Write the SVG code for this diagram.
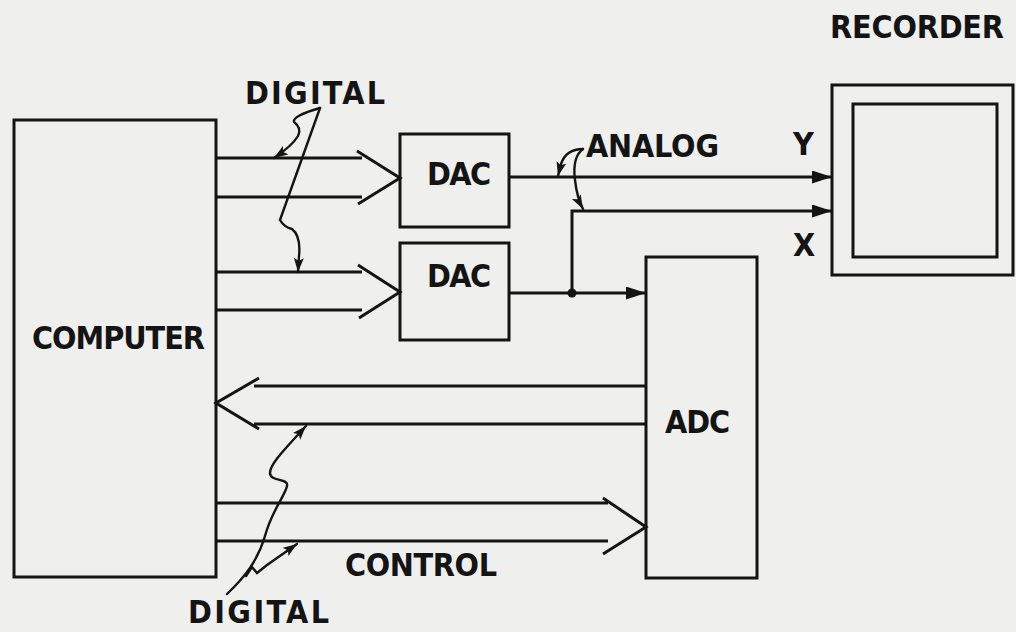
<svg xmlns="http://www.w3.org/2000/svg" width="1016" height="632" viewBox="0 0 1016 632">
<style>
.bg{fill:#efefed}
.box{fill:none;stroke:#141414;stroke-width:3}
.ln{fill:none;stroke:#141414;stroke-width:3;stroke-linejoin:miter}
.ld{fill:none;stroke:#141414;stroke-width:2.4;stroke-linecap:round}
.t{font-family:"DejaVu Sans Condensed","DejaVu Sans","Liberation Sans",sans-serif;font-weight:bold;font-size:32px;fill:#141414}
</style>
<defs>
<marker id="big" markerUnits="userSpaceOnUse" markerWidth="22" markerHeight="14" refX="20" refY="6.5" orient="auto">
<path d="M0,0 L20,6.5 L0,13 Z" fill="#141414"/>
</marker>
<marker id="sm" markerUnits="userSpaceOnUse" markerWidth="16" markerHeight="12" refX="14" refY="5" orient="auto">
<path d="M0,0 L14,5 L0,10 L3,5 Z" fill="#141414"/>
</marker>
</defs>
<rect class="bg" x="0" y="0" width="1016" height="632"/>

<g id="computer">
<rect class="box" x="14" y="120" width="202" height="457"/>
<text class="t" x="32" y="349" textLength="173" lengthAdjust="spacing">COMPUTER</text>
</g>
<g id="dac1">
<rect class="box" x="400" y="134" width="109" height="93"/>
<text class="t" x="427" y="185" textLength="64" lengthAdjust="spacing">DAC</text>
</g>
<g id="dac2">
<rect class="box" x="400" y="243" width="109" height="97"/>
<text class="t" x="427" y="287" textLength="64" lengthAdjust="spacing">DAC</text>
</g>
<g id="adc">
<rect class="box" x="646" y="257" width="111" height="321"/>
<text class="t" x="665" y="433" textLength="65" lengthAdjust="spacing">ADC</text>
</g>
<g id="recorder">
<rect class="box" x="832" y="85" width="181" height="190"/>
<rect class="box" x="853" y="104" width="144" height="153"/>
<text class="t" x="830" y="38" textLength="174" lengthAdjust="spacing">RECORDER</text>
</g>

<g id="connectors">
<path class="ln" d="M216,158 H362 M216,197 H362 M357,151 L400,178 L358,204"/>
<path class="ln" d="M216,272 H362 M216,310 H362 M358,265 L400,292 L359,318"/>
<path class="ln" d="M646,386 H254 M646,424 H254 M259,378 L216,403 L259,429"/>
<path class="ln" d="M216,503 H608 M216,541 H608 M603,498 L646,527 L603,554"/>
<path class="ln" d="M509,177 H832" marker-end="url(#big)"/>
<path class="ln" d="M572,293 V211 H832" marker-end="url(#big)"/>
<path class="ln" d="M509,293 H646" marker-end="url(#big)"/>
<circle cx="572" cy="293" r="4.5" fill="#141414"/>
</g>

<g id="labels">
<text class="t" x="245" y="104" textLength="140" lengthAdjust="spacing">DIGITAL</text>
<path class="ld" d="M320,108 Q292,116 294,122 Q302,128 298,136 Q292,146 274,158" marker-end="url(#sm)"/>
<path class="ld" d="M320,108 L280,220 Q284,227 292,229 Q301,236 299,256 L298,272" marker-end="url(#sm)"/>
<text class="t" x="586" y="157" textLength="133" lengthAdjust="spacing">ANALOG</text>
<path class="ld" d="M583,149 Q566,149 561,164 L558,176" marker-end="url(#sm)"/>
<path class="ld" d="M583,149 Q572,157 575,180 Q577,198 583,209" marker-end="url(#sm)"/>
<text class="t" x="793" y="155">Y</text>
<text class="t" x="793" y="256">X</text>
<text class="t" x="345" y="576" textLength="152" lengthAdjust="spacing">CONTROL</text>
<text class="t" x="188" y="623" font-size="30" textLength="141" lengthAdjust="spacing">DIGITAL</text>
<path class="ld" d="M227,594 C245,577 258,560 265,536 C272,510 285,496 287,486 C289,478 270,482 270,473 C270,464 285,449 306,426" marker-end="url(#sm)"/>
<path class="ld" d="M246,576 L252,567 L257,573 L267,565 L297,544" marker-end="url(#sm)"/>
</g>
</svg>
